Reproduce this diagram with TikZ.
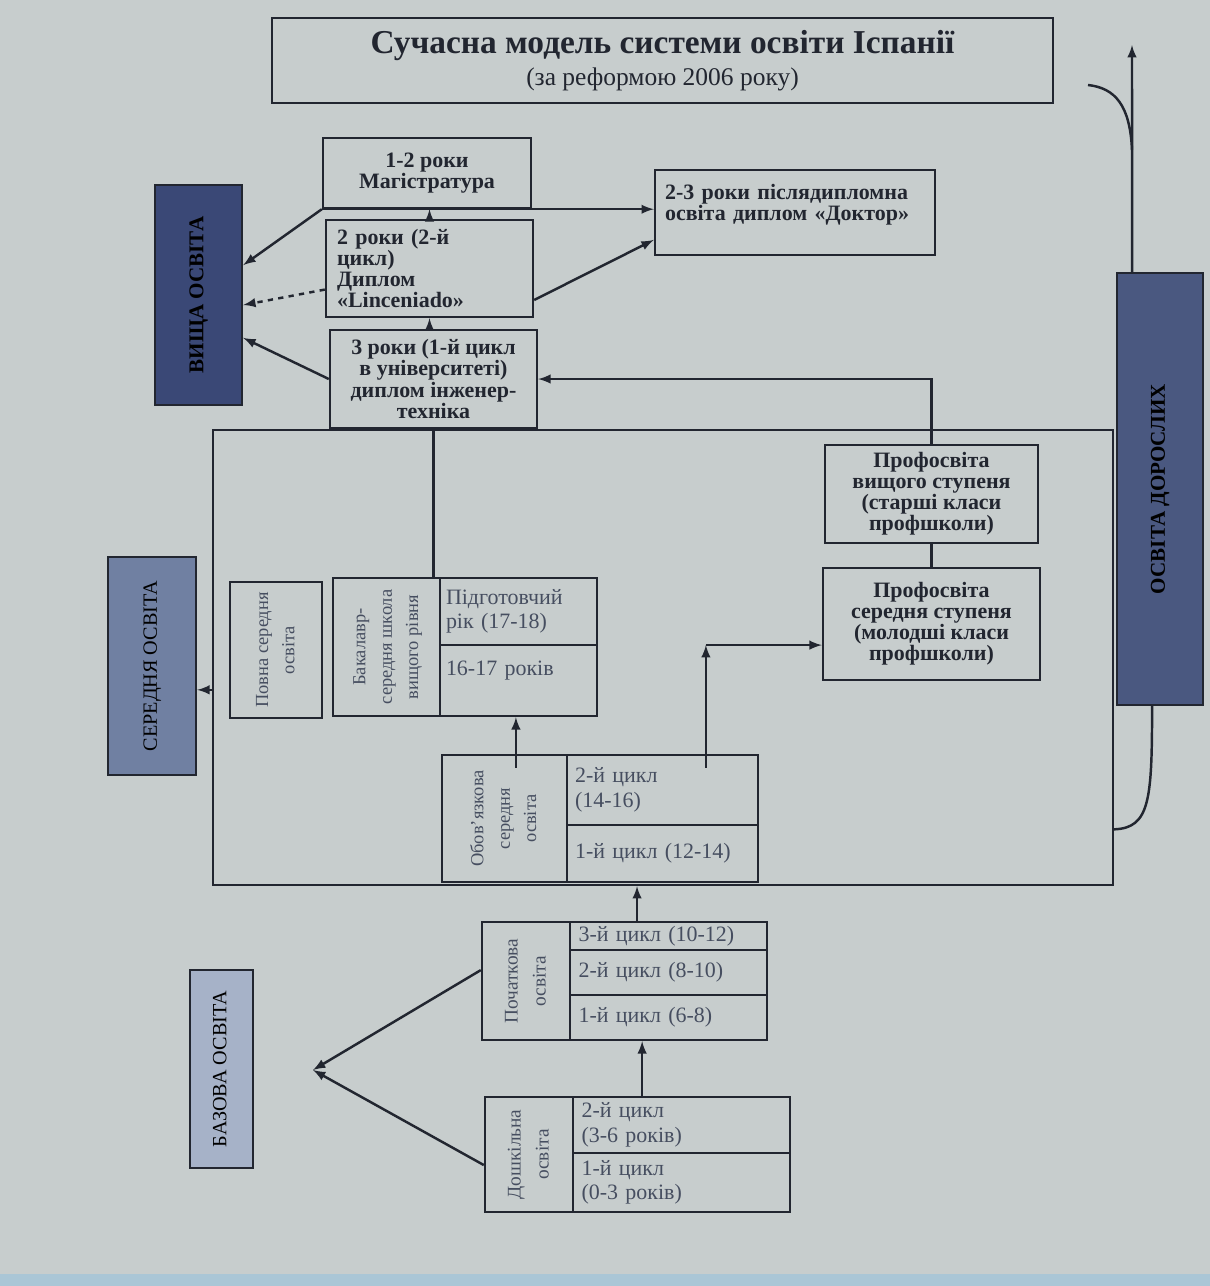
\documentclass[tikz,border=0pt]{standalone}
\usepackage{fontspec}
\setmainfont{Liberation Serif}
\usepackage{graphicx}
\usetikzlibrary{arrows,positioning}

\definecolor{paper}{RGB}{199,205,205}
\definecolor{screen}{RGB}{170,198,214}
\definecolor{ink}{RGB}{34,38,48}
\definecolor{pale}{RGB}{70,78,96}
\definecolor{vyshcha}{RGB}{58,72,118}
\definecolor{seredn}{RGB}{112,128,162}
\definecolor{bazova}{RGB}{166,178,200}
\definecolor{doros}{RGB}{74,88,128}

% rotated text, read from bottom to top
\newcommand{\vtxt}[1]{\rotatebox{90}{\begin{tabular}{@{}c@{}}#1\end{tabular}}}

\begin{document}
\begin{tikzpicture}[x=0.02cm, y=-0.02cm, >=latex,
    box/.style={draw=ink, fill=paper, line width=1.4pt, inner sep=2pt, text=ink, align=center},
    bbox/.style={box, font=\fontsize{12.5}{12}\selectfont\bfseries},
    lbox/.style={box, text=pale, align=left, font=\fontsize{12.5}{14}\selectfont},
    vbox/.style={box, text=pale, font=\fontsize{10.5}{15}\selectfont},
    tagbox/.style={draw=ink, line width=1.4pt, text=black, inner sep=0pt},
    arr/.style={->, draw=ink, line width=1.4pt},
    link/.style={draw=ink, line width=1.4pt}
  ]
  \fill[paper] (0,0) rectangle (1210,1286);
  \fill[screen] (0,1274) rectangle (1210,1286);

  % title
  \node[box, minimum width=15.62cm, minimum height=1.7cm] (title) at (662.5,60.5)
    {{\fontsize{19}{22}\selectfont\bfseries Сучасна модель системи освіти Іспанії}\\[3pt]
     {\fontsize{14.5}{16}\selectfont (за реформою 2006 року)}};

  % higher education
  \node[bbox, minimum width=4.16cm, minimum height=1.4cm] (mast) at (427,173) {1-2 роки\\Магістратура};
  \node[bbox, minimum width=4.14cm, minimum height=1.94cm, align=left, text width=3.7cm] (lic) at (429.5,268.5)
    {2 роки (2-й\\цикл)\\Диплом\\«Linceniado»};
  \node[bbox, minimum width=4.14cm, minimum height=1.96cm] (bach) at (433.5,379)
    {3 роки (1-й цикл\\в університеті)\\диплом інженер-\\техніка};
  \node[bbox, minimum width=5.6cm, minimum height=1.7cm, align=left, text width=5.2cm] (doc) at (795,212.5)
    {2-3 роки післядипломна\\освіта диплом «Доктор»\\~};
  \node[tagbox, fill=vyshcha, minimum width=1.74cm, minimum height=4.4cm,
    font=\fontsize{12}{14}\selectfont\bfseries] (vys) at (198.5,295) {\vtxt{ВИЩА ОСВІТА}};

  % secondary education
  \node[draw=ink, line width=1.4pt, minimum width=18cm, minimum height=9.1cm] (frame) at (663,657.5) {};
  \node[bbox, minimum width=4.26cm, minimum height=1.96cm] (ph) at (931.5,494)
    {Профосвіта\\вищого ступеня\\(старші класи\\профшколи)};
  \node[bbox, minimum width=4.34cm, minimum height=2.24cm] (pm) at (931.5,624)
    {Профосвіта\\середня ступеня\\(молодші класи\\профшколи)};
  \node[vbox, minimum width=1.84cm, minimum height=2.72cm] (povna) at (276,650) {\vtxt{Повна середня\\освіта}};
  \node[vbox, minimum width=2.14cm, minimum height=2.76cm] (bsL) at (386.5,647)
    {\vtxt{Бакалавр-\\середня школа\\вищого рівня}};
  \node[lbox, minimum width=3.14cm, minimum height=1.34cm, text width=2.9cm] (bsT) at (518.5,611.5)
    {Підготовчий\\рік (17-18)};
  \node[lbox, minimum width=3.14cm, minimum height=1.42cm, text width=2.9cm] (bsB) at (518.5,680.5)
    {16-17 років\\~};
  \node[vbox, minimum width=2.5cm, minimum height=2.54cm] (obL) at (504.5,818.5)
    {\vtxt{Обов'язкова\\середня\\освіта}};
  \node[lbox, minimum width=3.82cm, minimum height=1.4cm, text width=3.5cm] (obT) at (662.5,790)
    {2-й цикл\\(14-16)};
  \node[lbox, minimum width=3.82cm, minimum height=1.14cm, text width=3.5cm] (obB) at (662.5,853.5)
    {1-й цикл (12-14)};
  \node[tagbox, fill=seredn, minimum width=1.76cm, minimum height=4.36cm,
    font=\fontsize{11.5}{14}\selectfont] (ser) at (152,666) {\vtxt{СЕРЕДНЯ ОСВІТА}};

  % basic education
  \node[vbox, font=\fontsize{11}{16}\selectfont, minimum width=1.76cm, minimum height=2.36cm] (prL) at (526,981)
    {\vtxt{Початкова\\освіта}};
  \node[lbox, inner sep=0pt, minimum width=3.94cm, minimum height=0.56cm, text width=3.6cm] (pr3) at (668.5,936)
    {3-й цикл (10-12)};
  \node[lbox, minimum width=3.94cm, minimum height=0.9cm, text width=3.6cm] (pr2) at (668.5,972.5)
    {2-й цикл (8-10)};
  \node[lbox, minimum width=3.94cm, minimum height=0.9cm, text width=3.6cm] (pr1) at (668.5,1017.5)
    {1-й цикл (6-8)};
  \node[vbox, font=\fontsize{11}{16}\selectfont, minimum width=1.76cm, minimum height=2.3cm] (dsL) at (529,1154.5)
    {\vtxt{Дошкільна\\освіта}};
  \node[lbox, minimum width=4.34cm, minimum height=1.12cm, text width=4cm] (ds2) at (681.5,1125)
    {2-й цикл\\(3-6 років)};
  \node[lbox, minimum width=4.34cm, minimum height=1.18cm, text width=4cm] (ds1) at (681.5,1182.5)
    {1-й цикл\\(0-3 років)};
  \node[tagbox, fill=bazova, minimum width=1.26cm, minimum height=3.96cm,
    font=\fontsize{11.5}{14}\selectfont] (baz) at (221.5,1069) {\vtxt{БАЗОВА ОСВІТА}};

  % adult education
  \node[tagbox, fill=doros, minimum width=1.72cm, minimum height=8.64cm,
    font=\fontsize{12}{14}\selectfont\bfseries] (adult) at (1160,489) {\vtxt{ОСВІТА ДОРОСЛИХ}};

  % connectors
  \draw[arr] (mast.south west) -- ([yshift=17pt]vys.east);
  \draw[arr] (mast.south west) -- (mast.south west -| doc.west);
  \draw[arr, dashed] ([yshift=-12pt]lic.west) -- ([yshift=-5.7pt]vys.east);
  \draw[arr] (bach.west) -- ([yshift=-24.4pt]vys.east);
  \draw[arr] ([yshift=-17.9pt]lic.east) -- ([yshift=-15.6pt]doc.west);
  \draw[arr] (lic.south |- bach.north) -- (lic.south);
  \draw[arr] (lic.north) -- (lic.north |- mast.south);
  \draw[arr] (ph.north) |- (bach.east);
  \draw[link] (bach.south) -- (bach.south |- bsL.north);
  \draw[link] (ph.south) -- (pm.north);

  \coordinate (pmin) at ([yshift=-12pt]pm.west);
  \coordinate (ob2) at ([xshift=24.7pt,yshift=-8pt]obT.north);
  \draw[arr] (ob2) -- (ob2 |- pmin);
  \draw[arr] (ob2 |- pmin) -- (pmin);
  \coordinate (ob1) at ([xshift=6.5pt,yshift=-8pt]obL.north);
  \draw[arr] (ob1) -- (ob1 |- bsB.south);

  \draw[arr] ([xshift=-17.9pt]pr3.north) -- ([xshift=-17.9pt]pr3.north |- frame.south);
  \draw[arr] ([xshift=-22.4pt]ds2.north) -- ([xshift=-22.4pt]ds2.north |- pr1.south);

  \coordinate (bzt) at (313,1070);
  \draw[arr] ([yshift=6.2pt]prL.west) -- (bzt);
  \draw[arr] ([yshift=-6pt]dsL.west) -- (bzt);

  \draw[arr] ([yshift=-18.4pt]frame.west) -- ([yshift=-18.4pt]frame.west -| ser.east);

  \coordinate (adtop) at (1132,45);
  \coordinate (tc) at (1088,85);
  \draw[arr] ([xshift=-15.9pt]adult.north) -- (adtop);
  \draw[link] (tc) .. controls (1115,88) and (1130,105) .. (1132,150);
  \draw[link] ([yshift=-97.8pt]frame.east) .. controls (1150,828) and (1152,800) .. ([xshift=-4.5pt]adult.south);
\end{tikzpicture}
\end{document}
